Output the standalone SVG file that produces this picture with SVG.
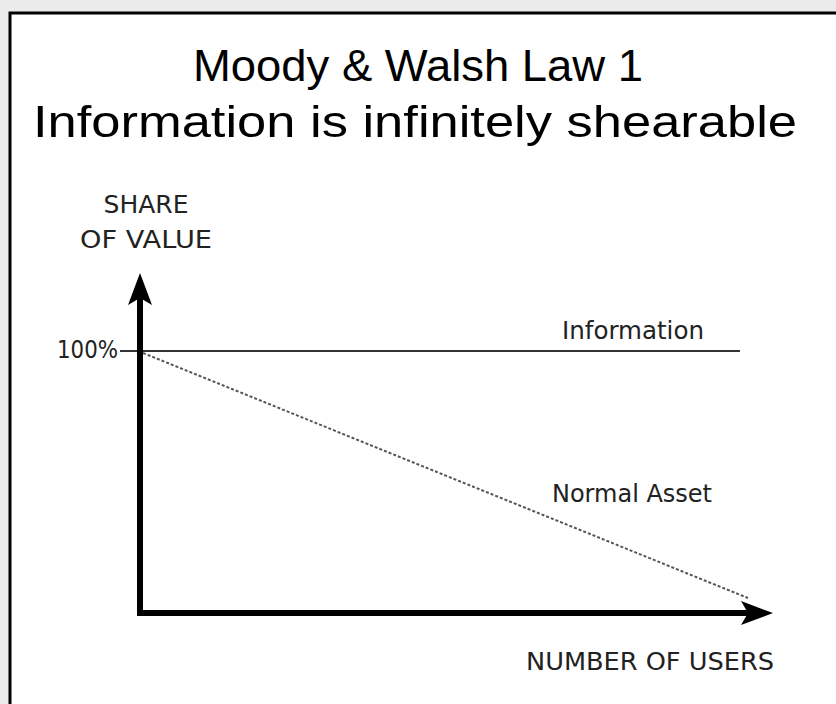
<svg xmlns="http://www.w3.org/2000/svg" width="836" height="704" viewBox="0 0 836 704">
<style>
.title{font-family:"Comic Sans MS","Liberation Sans",sans-serif;font-size:44px;fill:#000}
.lbl{font-family:"DejaVu Sans","Liberation Sans",sans-serif;font-size:24px;fill:#222}
.axis{stroke:#000;stroke-width:6;fill:none}
</style>
<defs>
<marker id="ah" markerWidth="32" markerHeight="26" refX="7" refY="13" orient="auto" markerUnits="userSpaceOnUse">
<path d="M0,1 L32,13 L0,25 L7,13 Z" fill="#000"/>
</marker>
</defs>
<rect width="836" height="704" fill="#ebebeb"/>
<rect x="10" y="13" width="830" height="700" fill="#fff" stroke="#000" stroke-width="3"/>
<g id="title">
<text class="title" x="418" y="81" text-anchor="middle" textLength="450" lengthAdjust="spacingAndGlyphs">Moody &amp; Walsh Law 1</text>
<text class="title" x="415" y="137" text-anchor="middle" textLength="764" lengthAdjust="spacingAndGlyphs">Information is infinitely shearable</text>
</g>
<g id="y-label">
<text class="lbl" x="146" y="213" text-anchor="middle" textLength="85" lengthAdjust="spacingAndGlyphs">SHARE</text>
<text class="lbl" x="146" y="248" text-anchor="middle" textLength="132" lengthAdjust="spacingAndGlyphs">OF VALUE</text>
</g>
<g id="x-label">
<text class="lbl" x="774" y="670" text-anchor="end" textLength="248" lengthAdjust="spacingAndGlyphs">NUMBER OF USERS</text>
</g>
<g id="tick-100">
<text class="lbl" x="118" y="358" text-anchor="end" textLength="61" lengthAdjust="spacingAndGlyphs">100%</text>
</g>
<g id="information">
<line x1="120" y1="351" x2="740" y2="351" stroke="#333" stroke-width="2"/>
<text class="lbl" x="633" y="339" text-anchor="middle" textLength="142" lengthAdjust="spacingAndGlyphs">Information</text>
</g>
<g id="normal-asset">
<line x1="143" y1="353" x2="748" y2="598" stroke="#555" stroke-width="2" stroke-dasharray="3,2"/>
<text class="lbl" x="632" y="502" text-anchor="middle" textLength="160" lengthAdjust="spacingAndGlyphs">Normal Asset</text>
</g>
<g id="connectors">
<line class="axis" x1="140" y1="616" x2="140" y2="298" marker-end="url(#ah)"/>
<line class="axis" x1="137" y1="613" x2="748" y2="613" marker-end="url(#ah)"/>
</g>
</svg>
